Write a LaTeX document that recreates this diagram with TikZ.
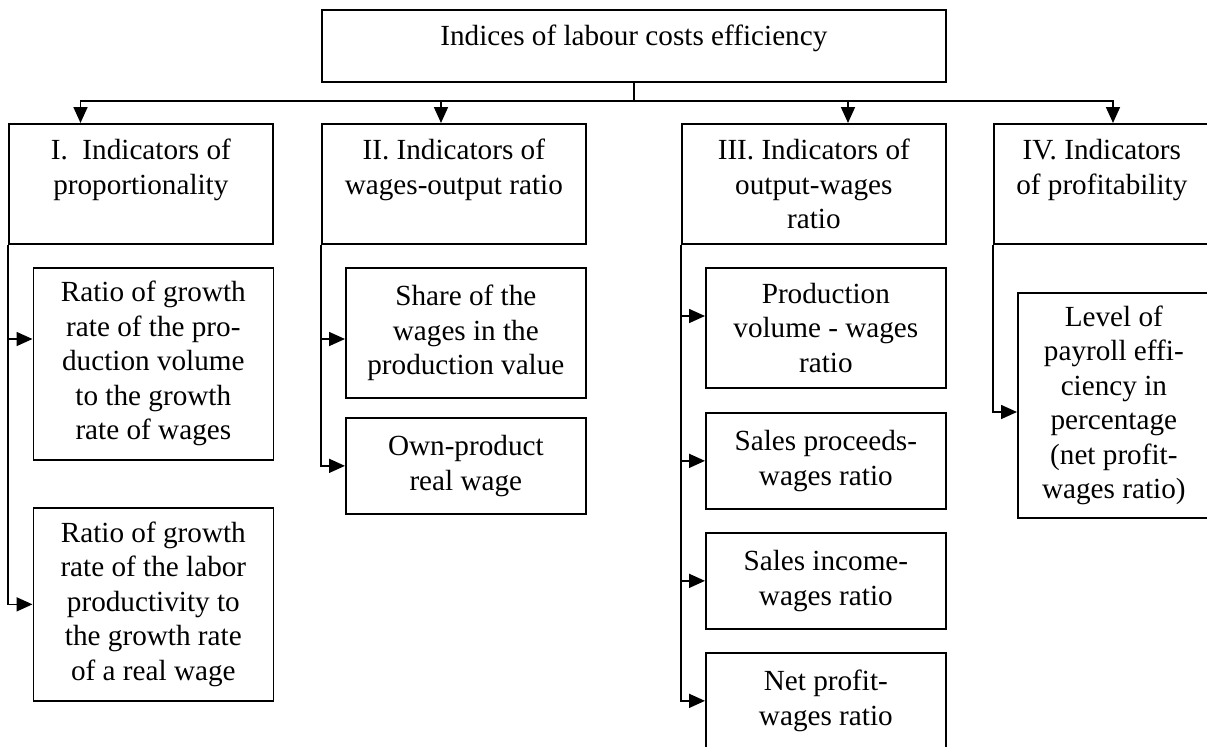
\documentclass[tikz,border=0pt]{standalone}
\usepackage{fontspec}
\setmainfont{Liberation Serif}
\usetikzlibrary{arrows.meta,calc}
\tikzset{
  box/.style={draw=black, line width=0.85pt, inner sep=0pt, anchor=north west,
    font=\fontsize{14.6}{17.25}\selectfont},
  arr/.style={draw=black, line width=0.85pt, -{Triangle[length=8pt,width=7pt]}},
  ln/.style={draw=black, line width=0.85pt}
}
\newcommand{\tbx}[3]{\parbox[t][#2pt][t]{#1pt}{\centering\rule{0pt}{18pt}#3}}
\newcommand{\cbx}[3]{\parbox[c][#2pt][c]{#1pt}{\centering #3}}
\begin{document}
\begin{tikzpicture}[x=0.5pt,y=-0.5pt]
\path[use as bounding box, fill=white] (0,0) rectangle (1207,746);
% top
\node[box] (top) at (321,9) {\tbx{312}{36}{Indices of labour costs efficiency}};
% level 1
\node[box] (b1) at (8,123) {\tbx{132}{60}{I.\ \ Indicators of\\proportionality}};
\node[box] (b2) at (321,123) {\tbx{132}{60}{II. Indicators of\\wages-output ratio}};
\node[box] (b3) at (681,123) {\tbx{132}{60}{III. Indicators of\\output-wages\\ratio}};
\node[box] (b4) at (993,123) {\tbx{108}{60}{IV. Indicators\\of profitability}};
% sub boxes
\node[box] (s11) at (32.5,267) {\cbx{120}{96}{Ratio of growth\\rate of the pro-\\duction volume\\to the growth\\rate of wages}};
\node[box] (s12) at (32.5,507) {\cbx{120}{96.5}{Ratio of growth\\rate of the labor\\productivity to\\the growth rate\\of a real wage}};
\node[box] (s21) at (345,267) {\cbx{120}{65}{Share of the\\wages in the\\production value}};
\node[box] (s22) at (345,417) {\cbx{120}{48}{Own-product\\real wage}};
\node[box] (s31) at (705,267) {\cbx{120}{60}{Production\\volume - wages\\ratio}};
\node[box] (s32) at (705,412) {\cbx{120}{48}{Sales proceeds-\\wages ratio}};
\node[box] (s33) at (705,532) {\cbx{120}{48}{Sales income-\\wages ratio}};
\node[box] (s34) at (705,652) {\cbx{120}{48}{Net profit-\\wages ratio}};
\node[box] (s41) at (1017,292) {\cbx{96}{112.5}{Level of\\payroll effi-\\ciency in\\percentage\\(net profit-\\wages ratio)}};
% connectors top
\coordinate (bus) at ($(top.south)+(0,18)$);
\draw[ln] (top.south) -- (bus);
\draw[arr] (bus) -| ($(b1.north west)+(72.5,0)$);
\draw[arr] (bus) -| ($(b2.north west)+(120,0)$);
\draw[arr] (bus) -| ($(b3.north west)+(167,0)$);
\draw[arr] (bus) -| ($(b4.north west)+(120,0)$);
% side feeds
\draw[arr] (b1.south west) |- ($(s11.north west)+(0,72)$);
\draw[arr] (b1.south west) |- (s12.west);
\draw[arr] (b2.south west) |- ($(s21.north west)+(0,72)$);
\draw[arr] (b2.south west) |- (s22.west);
\draw[arr] (b3.south west) |- ($(s31.north west)+(0,49)$);
\draw[arr] (b3.south west) |- (s32.west);
\draw[arr] (b3.south west) |- (s33.west);
\draw[arr] (b3.south west) |- (s34.west);
\draw[arr] (b4.south west) |- ($(s41.north west)+(0,120)$);
\end{tikzpicture}
\end{document}
